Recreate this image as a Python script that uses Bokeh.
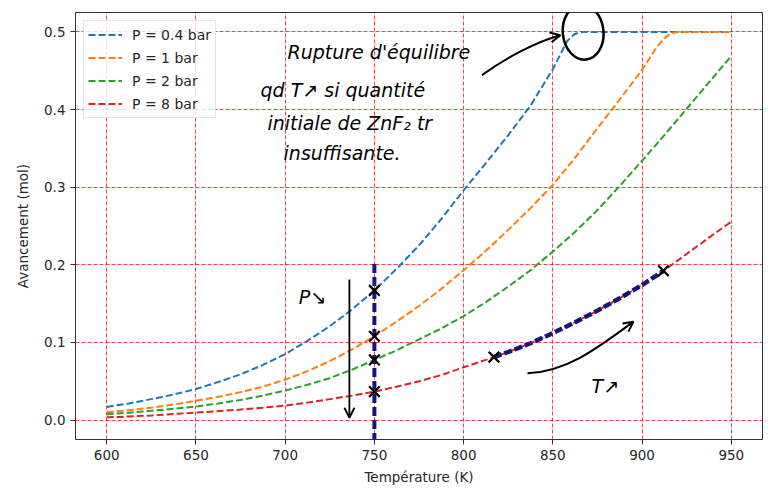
import numpy as np
from bokeh.plotting import figure
from bokeh.models import Range1d, FixedTicker, Arrow, OpenHead, NumeralTickFormatter, Label
from bokeh.embed import file_html
from bokeh.resources import INLINE

# ---------------- data ----------------
T_common = [600, 612.5, 625, 637.5, 650, 662.5, 675, 687.5, 700, 712.5, 725, 737.5, 750, 762.5,
            775, 787.5, 800, 812.5, 825, 837.5, 850, 862.5, 875, 887.5, 900, 912.5, 925, 937.5, 950]

T_blue = [600, 612.5, 625, 637.5, 650, 662.5, 675, 687.5, 700, 712.5, 725, 737.5, 750, 762.5,
          775, 787.5, 800, 812.5, 825, 837.5, 850, 854, 858, 862, 866, 900, 950]
xi_blue = [0.017, 0.0215, 0.027, 0.033, 0.040, 0.049, 0.059, 0.071, 0.085, 0.102, 0.121, 0.1425,
           0.167, 0.195, 0.225, 0.259, 0.296, 0.331, 0.367, 0.405, 0.452, 0.470, 0.488, 0.497,
           0.500, 0.500, 0.500]

T_orange = [600, 612.5, 625, 637.5, 650, 662.5, 675, 687.5, 700, 712.5, 725, 737.5, 750, 762.5,
            775, 787.5, 800, 812.5, 825, 837.5, 850, 862.5, 875, 887.5, 900, 907, 912, 916, 920, 950]
xi_orange = [0.010, 0.0128, 0.016, 0.020, 0.025, 0.030, 0.036, 0.043, 0.052, 0.063, 0.076, 0.091,
             0.108, 0.127, 0.147, 0.169, 0.193, 0.218, 0.245, 0.273, 0.303, 0.338, 0.376, 0.413,
             0.451, 0.476, 0.491, 0.498, 0.500, 0.500]

xi_green = [0.0076, 0.0096, 0.012, 0.0145, 0.0174, 0.0215, 0.026, 0.0315, 0.038, 0.0455, 0.054,
            0.065, 0.0775, 0.090, 0.104, 0.118, 0.134, 0.152, 0.172, 0.193, 0.217, 0.2425, 0.2705,
            0.3015, 0.334, 0.367, 0.401, 0.435, 0.469]

xi_red = [0.0035, 0.0047, 0.006, 0.0078, 0.0097, 0.0115, 0.0135, 0.016, 0.0187, 0.0225, 0.027,
          0.0315, 0.0367, 0.043, 0.050, 0.058, 0.068, 0.0775, 0.0877, 0.099, 0.112, 0.126, 0.141,
          0.157, 0.174, 0.193, 0.214, 0.235, 0.2555]

labels = ["P = 0.4 bar", "P = 1 bar", "P = 2 bar", "P = 8 bar"]
colors = ["#1f77b4", "#ff7f0e", "#2ca02c", "#d62728"]

x_ticks = [600, 650, 700, 750, 800, 850, 900, 950]
y_ticks = [0.0, 0.1, 0.2, 0.3, 0.4, 0.5]

T_iso = 750            # isotherm used in annotation
T_seg = (817, 912)     # heating segment on P = 8 bar curve

# ---------------- figure ----------------
p = figure(width=772, height=487, output_backend="svg", toolbar_location=None,
           title=None,
           x_range=Range1d(582.5, 967.5), y_range=Range1d(-0.025, 0.525),
           min_border_left=75, min_border_right=10, min_border_top=12, min_border_bottom=48)
p.background_fill_color = "white"
p.border_fill_color = "white"
p.outline_line_color = "#333333"
p.outline_line_width = 1
p.outline_line_alpha = 1

p.xaxis.ticker = FixedTicker(ticks=x_ticks)
p.yaxis.ticker = FixedTicker(ticks=y_ticks)
p.xgrid.ticker = FixedTicker(ticks=x_ticks)
p.ygrid.ticker = FixedTicker(ticks=y_ticks)
p.yaxis.formatter = NumeralTickFormatter(format="0.0")
p.xaxis.axis_label = "Température (K)"
p.yaxis.axis_label = "Avancement (mol)"
for ax in p.axis:
    ax.axis_line_color = None
    ax.minor_tick_line_color = None
    ax.major_tick_in = 0
    ax.major_tick_out = 5
    ax.major_tick_line_color = "#333333"
    ax.major_label_text_font = "DejaVu Sans"
    ax.major_label_text_font_size = "13.5px"
    ax.major_label_text_color = "#262626"
    ax.axis_label_text_font = "DejaVu Sans"
    ax.axis_label_text_font_size = "13.5px"
    ax.axis_label_text_font_style = "normal"
    ax.axis_label_text_color = "#262626"
p.xaxis.axis_label_standoff = 6
p.yaxis.axis_label_standoff = 10
p.xaxis.major_label_standoff = 5
p.yaxis.major_label_standoff = 5

p.grid.grid_line_color = "red"
p.grid.grid_line_dash = "4 2"
p.grid.grid_line_alpha = 0.75
p.grid.grid_line_width = 1

# ---------------- curves ----------------
series = [(T_blue, xi_blue), (T_orange, xi_orange), (T_common, xi_green), (T_common, xi_red)]
for (tx, vy), lab, col in zip(series, labels, colors):
    p.line(tx, vy, line_color=col, line_width=2, line_dash="7 3", legend_label=lab)

p.legend.location = "top_left"
p.legend.margin = 8
p.legend.padding = 4
p.legend.spacing = 4
p.legend.glyph_width = 34
p.legend.glyph_height = 19
p.legend.label_height = 19
p.legend.label_standoff = 10
p.legend.label_text_font = "DejaVu Sans"
p.legend.label_text_font_size = "14px"
p.legend.label_text_color = "#262626"
p.legend.border_line_color = "#cccccc"
p.legend.border_line_width = 1
p.legend.background_fill_alpha = 0.8

# ---------------- hand annotations ----------------
ink = "black"
navy = "#16167a"

# isotherm at 750 K
p.line([T_iso, T_iso], [0.201, -0.03], line_color=navy, line_width=4, line_dash="9 4")
# heating path on P = 8 bar
seg_T = [T_seg[0]] + [t for t in T_common if T_seg[0] < t < T_seg[1]] + [T_seg[1]]
seg_v = list(np.interp(seg_T, T_common, xi_red))
p.line(seg_T, seg_v, line_color=navy, line_width=4.5, line_dash="8 3")

# crosses
cross_x = [T_iso] * 4 + [T_seg[0], T_seg[1]]
cross_y = [float(np.interp(T_iso, T_blue, xi_blue)), float(np.interp(T_iso, T_orange, xi_orange)),
           float(np.interp(T_iso, T_common, xi_green)), float(np.interp(T_iso, T_common, xi_red)),
           float(np.interp(T_seg[0], T_common, xi_red)), float(np.interp(T_seg[1], T_common, xi_red))]
p.scatter(cross_x, cross_y, marker="x", size=15, line_color=ink, line_width=2.2)

# P decreasing arrow
p.add_layout(Arrow(x_start=736, y_start=0.181, x_end=736, y_end=0.003,
                   line_color=ink, line_width=1.8,
                   end=OpenHead(size=10, line_color=ink, line_width=1.8)))

# curved arrow "T up"
p.bezier(x0=[835.8], y0=[0.0604], x1=[895.2], y1=[0.1268],
         cx0=[857.0], cy0=[0.0621], cx1=[873.8], cy1=[0.0903],
         line_color=ink, line_width=2)
p.add_layout(Arrow(x_start=893.0, y_start=0.1231, x_end=895.2, y_end=0.1268,
                   line_color=ink, line_width=2,
                   end=OpenHead(size=10, line_color=ink, line_width=2)))

# arrow to circle
p.bezier(x0=[810.3], y0=[0.4443], x1=[854.2], y1=[0.4957],
         cx0=[823.4], cy0=[0.4662], cx1=[840.2], cy1=[0.4868],
         line_color=ink, line_width=2)
p.add_layout(Arrow(x_start=851.8, y_start=0.4945, x_end=854.2, y_end=0.4957,
                   line_color=ink, line_width=2,
                   end=OpenHead(size=10, line_color=ink, line_width=2)))

# circle around rupture point
p.ellipse(x=[867], y=[0.4996], width=22.8, height=0.0708, angle=0.1,
          fill_color=None, line_color=ink, line_width=2.5)

def note(x, y, txt, size="19px", align="left"):
    p.add_layout(Label(x=x, y=y, text=txt, text_font="DejaVu Sans", text_font_size=size,
                       text_font_style="italic", text_color=ink,
                       text_align=align, text_baseline="middle"))

note(701.3, 0.474, "Rupture d'équilibre")
note(686.2, 0.425, "qd   T↗  si quantité")
note(690.1, 0.3826, "initiale de ZnF₂ tr")
note(699.1, 0.344, "insuffisante.")
note(715.3, 0.1586, "P↘", "19px", "center")
note(879.4, 0.0440, "T↗", "19px", "center")

open("out.html", "w").write(file_html(p, INLINE))
